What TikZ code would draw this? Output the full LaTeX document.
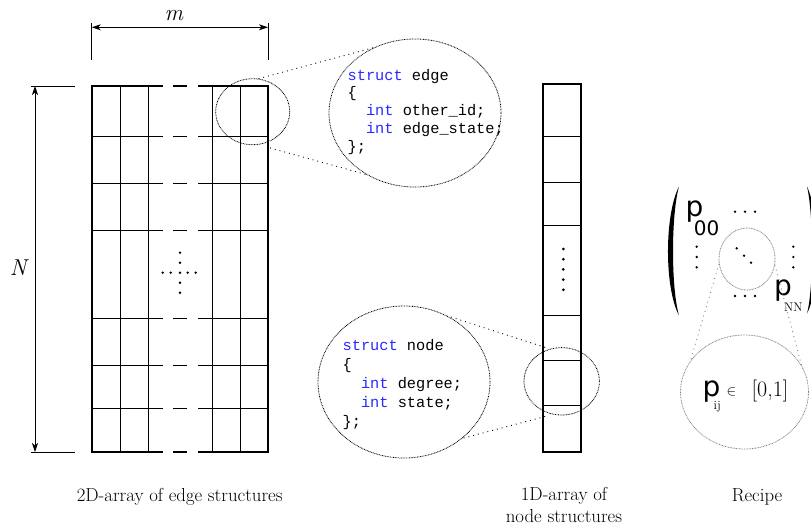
\documentclass[tikz,border=0pt]{standalone}
\usepackage{fontspec}
\setmonofont{Liberation Mono}
\newfontfamily\pfont{DejaVu Sans}
\usetikzlibrary{shapes.geometric,arrows.meta}
\definecolor{kwblue}{RGB}{40,40,255}

\begin{document}
\begin{tikzpicture}[x=1pt,y=-1pt,>={Stealth[length=9pt,width=6pt,inset=2.5pt]},
    frame/.style={line width=1.8pt},
    cell/.style={line width=1pt},
    dim/.style={line width=0.8pt},
    zoomring/.style={draw,ellipse,dash pattern=on 0.8pt off 0.8pt,line width=0.8pt,inner sep=0pt},
    bubble/.style={zoomring,minimum width=172pt,minimum height=148pt},
    zoomline/.style={dash pattern=on 0.9pt off 4pt,line width=0.9pt},
    code/.style={font=\fontsize{15.3}{17.7}\selectfont\ttfamily,align=left,inner sep=0pt},
    caption/.style={font=\fontsize{18.8}{22}\selectfont,align=center,inner sep=0pt},
    bigp/.style={font=\pfont\fontsize{28}{28}\selectfont,inner sep=0pt,anchor=base west},
    small/.style={font=\fontsize{12.5}{12.5}\selectfont,inner sep=0pt,anchor=base west}]
  \useasboundingbox (0,0) rectangle (811,527);

  % Draw the 2D array
  \foreach \y in {136,183,230,318,365,408}
    \draw[cell] (91.7,\y) -- (162.7,\y) (173,\y) -- (187,\y) (198.3,\y) -- (268,\y);
  \foreach \x in {120.7,148.3,212,240}
    \draw[cell] (\x,86) -- (\x,452);
  \draw[frame] (162.7,86) -- (91.7,86) -- (91.7,452) -- (162.7,452);
  \draw[frame] (198.3,86) -- (268,86) -- (268,452) -- (198.3,452);
  \draw[frame] (173,86) -- (187,86) (173,452) -- (187,452);
  \foreach \y in {252.7,262.7,272.7,282.7,292.7}
    \fill (180,\y) circle (1.3pt);
  \foreach \x in {162.7,170.7,187.7,195.7}
    \fill (\x,272.7) circle (1.3pt);

  % Dimensions m and N
  \coordinate (mleft) at (91.7,27.3);
  \coordinate (mright) at (268,27.3);
  \draw[dim] (91.7,23) -- (91.7,60) (268,23) -- (268,60);
  \draw[dim,<->] (mleft) -- (mright);
  \node[font=\fontsize{23}{23}\selectfont,inner sep=0pt,anchor=base] (mlabel) at (174,20.7) {\textit{m}};
  \coordinate (Ntop) at (35,86);
  \coordinate (Nbottom) at (35,452);
  \draw[dim] (31,86) -- (75,86) (31,452) -- (75,452);
  \draw[dim,<->] (Ntop) -- (Nbottom);
  \node[font=\fontsize{23}{23}\selectfont,inner sep=0pt,anchor=base] (Nlabel) at (19.5,275) {\textit{N}};

  % Draw the 1D array
  \draw[frame] (543.3,84.3) rectangle (581,451.7);
  \foreach \y in {136,182.7,225,315,360,405.7}
    \draw[cell] (543.3,\y) -- (581,\y);
  \foreach \y in {249,259.2,269.4,279.6,289.8}
    \fill (563.3,\y) circle (1.5pt);

  % Zoom on one edge
  \node[zoomring,minimum width=74pt,minimum height=66pt] (edgezoom) at (252.7,111.7) {};
  \node[bubble] (edgebubble) at (415,113) {};
  \node[code,anchor=north west] (edgecode) at (347.5,69) {\textcolor{kwblue}{struct} edge\\
    \{\\
    \ \ \textcolor{kwblue}{int} other\_id;\\
    \ \ \textcolor{kwblue}{int} edge\_state;\\
    \};};
  \draw[zoomline] (edgezoom.80) -- (edgebubble.122);
  \draw[zoomline,shorten <=12pt] (edgezoom.-80) -- (edgebubble.232);

  % Zoom on one node
  \node[zoomring,minimum width=75.4pt,minimum height=67.4pt] (nodezoom) at (561.7,381.3) {};
  \node[bubble,minimum height=152pt] (nodebubble) at (404,382) {};
  \node[code,font=\fontsize{15.3}{18.8}\selectfont\ttfamily,anchor=north west] (nodecode) at (342.5,339.7) {\textcolor{kwblue}{struct} node\\
    \{\\
    \ \ \textcolor{kwblue}{int} degree;\\
    \ \ \textcolor{kwblue}{int} state;\\
    \};};
  \draw[zoomline,shorten <=5pt] (nodezoom.110) -- (nodebubble.57);
  \draw[zoomline,shorten <=8pt] (nodezoom.-105) -- (nodebubble.-44);

  % Draw the recipe matrix
  \fill (679,186.5) .. controls (664.3,215) and (664.3,288) .. (679,315.5)
    .. controls (671,288) and (671,215) .. (679,186.5) -- cycle;
  \fill (807,186.5) .. controls (820.3,215) and (820.3,288) .. (807,313.5)
    .. controls (813.7,288) and (813.7,215) .. (807,186.5) -- cycle;
  \node[bigp] (p00) at (685.4,216) {p};
  \node[font=\pfont\fontsize{20}{20}\selectfont,inner sep=0pt,anchor=base west] (p00sub) at (693.7,235) {00};
  \node[bigp] (pNN) at (774,295.5) {p};
  \node[small] (pNNsub) at (784,311) {NN};
  \foreach \x in {735,745,755} {
    \fill (\x,211.7) circle (1.3pt);
    \fill (\x,296) circle (1.3pt);
  }
  \foreach \y in {246.7,257,267.3} {
    \fill (696.7,\y) circle (1.3pt);
    \fill (793.3,\y) circle (1.3pt);
  }
  \foreach \x/\y in {736.7/248.3,744/255.7,751/262.7}
    \fill (\x,\y) circle (1.3pt);

  % Zoom on one entry
  \node[zoomring,draw=gray,minimum width=56pt,minimum height=62pt] (matzoom) at (747,259) {};
  \node[zoomring,draw=gray,minimum width=128pt,minimum height=114pt] (recipebubble) at (744.5,392) {};
  \node[bigp] (pij) at (702.4,396.5) {p};
  \node[small] (pijsub) at (713.5,409) {ij};
  \node[font=\fontsize{14}{14}\selectfont,inner sep=0pt,anchor=base west] (inrange) at (726.5,395) {$\in$};
  \node[font=\fontsize{22}{22}\selectfont,inner sep=0pt,anchor=base west] (unitrange) at (751.5,396) {[0,1]};
  \draw[zoomline,gray] (matzoom.190) -- (recipebubble.150);
  \draw[zoomline,gray] (matzoom.-12) -- (recipebubble.25);

  % Captions
  \node[caption,anchor=base] (edgecap) at (179.7,501.7) {2D-array of edge structures};
  \node[caption,anchor=north] (nodecap) at (564,487.5) {1D-array of\\node structures};
  \node[caption,anchor=base] (recipecap) at (757,501.7) {Recipe};
\end{tikzpicture}
\end{document}
